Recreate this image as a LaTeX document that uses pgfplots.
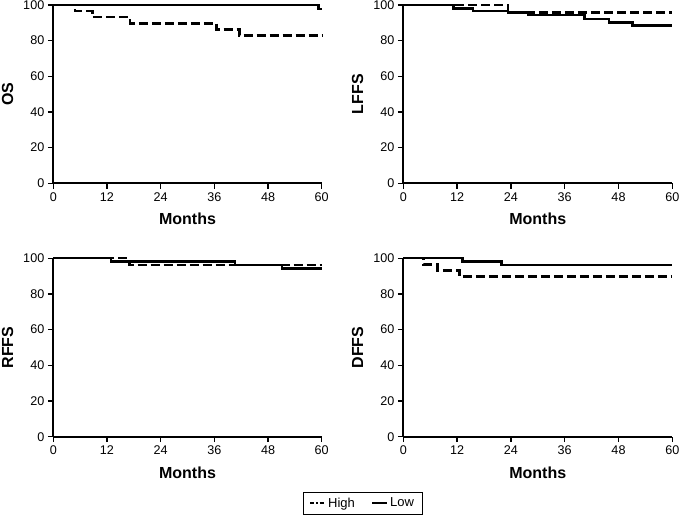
\documentclass[border=0pt]{standalone}
\usepackage{fontspec}
\setmainfont{Liberation Sans}
\usepackage{pgfplots}
\pgfplotsset{compat=1.18}
\pgfplotsset{
  km/.style={
    scale only axis,
    axis lines=left,
    axis line style={-, line width=1.9pt},
    xmin=0, xmax=60, ymin=0, ymax=100,
    xtick={0,12,24,36,48,60},
    ytick={0,20,40,60,80,100},
    tick align=outside,
    major tick length=5.5pt,
    tick style={line width=1.5pt, black},
    clip=false,
    /pgf/number format/assume math mode=true,
    ticklabel style={font=\fontsize{12.6}{14}\selectfont},
    label style={font=\fontsize{16}{18}\selectfont\bfseries},
    xlabel={Months},
    xlabel style={at={(axis description cs:0.5,-0.2)}, anchor=center},
    ylabel style={at={(axis description cs:-0.17,0.5)}, anchor=center},
  },
  hi/.style={black, line width=2.4pt, dash pattern=on 9pt off 4pt, const plot},
  lo/.style={black, line width=2.4pt, const plot},
}
\begin{document}
\begin{tikzpicture}
\useasboundingbox (0pt,0pt) rectangle (679pt,516pt);
% OS
\begin{axis}[km, at={(53.3pt,332.7pt)}, anchor=south west, width=268.4pt, height=178.3pt, ylabel={OS}]
\addplot[hi] coordinates {(0,100)(4.9,96.6)(8.8,93.1)(17.2,89.7)(36.5,86.2)(41.6,82.8)(60,82.8)};
\addplot[lo] coordinates {(0,100)(59.3,97.7)(60,97.7)};
\end{axis}
% LFFS
\begin{axis}[km, at={(403.3pt,332.7pt)}, anchor=south west, width=269pt, height=178.3pt, ylabel={LFFS}]
\addplot[hi] coordinates {(0,100)(23.3,95.9)(60,95.9)};
\addplot[lo] coordinates {(0,100)(11.2,98.1)(15.5,96.7)(23.4,95.7)(27.9,94.4)(40.4,92.3)(45.9,90.2)(51.1,88.6)(60,88.6)};
\end{axis}
% RFFS
\begin{axis}[km, at={(53.3pt,79.3pt)}, anchor=south west, width=268.4pt, height=178.4pt, ylabel={RFFS},
  legend columns=2,
  legend style={at={(1.152,-0.372)}, anchor=center, draw=black, line width=0.9pt,
    font=\fontsize{13}{15}\selectfont, inner xsep=6pt, inner ysep=3.5pt,
    /tikz/every even column/.append style={column sep=14pt}},
  legend image code/.code={\draw[#1] (0pt,0pt) -- (15pt,0pt);}]
\addlegendimage{black, line width=2.2pt, dash pattern=on 4pt off 2pt on 1.5pt off 2pt}
\addlegendimage{black, line width=2.2pt}
\addplot[hi, forget plot] coordinates {(0,100)(17.0,96.3)(60,96.3)};
\addplot[lo, forget plot] coordinates {(0,100)(12.9,98.2)(40.6,96.3)(51.1,94.3)(60,94.3)};
\legend{High,Low}
\end{axis}
% DFFS
\begin{axis}[km, at={(403.3pt,79.3pt)}, anchor=south west, width=269pt, height=178.4pt, ylabel={DFFS}]
\addplot[hi] coordinates {(0,100)(4.5,96.6)(7.6,93.1)(12.5,89.7)(60,89.7)};
\addplot[lo] coordinates {(0,100)(13.2,98.2)(21.9,96.3)(60,96.3)};
\end{axis}
\end{tikzpicture}
\end{document}
